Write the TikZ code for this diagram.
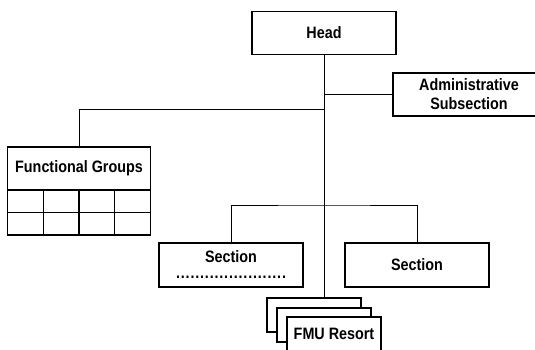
\documentclass[tikz,border=0pt]{standalone}
\usepackage{fontspec}
\setmainfont{Liberation Sans}[FakeStretch=0.87]
\begin{document}
\begin{tikzpicture}[x=1pt,y=-1pt,
  txt/.style={font=\fontsize{16.5}{19}\selectfont\bfseries},
  box/.style={draw,line width=1.4pt,fill=white,inner sep=0pt,txt,align=center},
  cell/.style={draw,line width=1.4pt,fill=white,inner sep=0pt,minimum width=35.75pt,minimum height=22.5pt},
  link/.style={line width=1pt}]
\useasboundingbox (0,0) rectangle (535,349);
% nodes
\node[box,minimum width=144pt,minimum height=43pt] (head) at (324,33) {Head};
\node[box,minimum width=152pt,minimum height=43pt] (admin) at (469,94.5) {Administrative\\Subsection};
\node[box,minimum width=143pt,minimum height=43pt] (fg) at (79,168.5) {Functional Groups};
\foreach \r in {0,1}{
  \foreach \c in {0,1,2,3}{
    \node[cell] (g\r\c) at ({7.5+35.75*\c+17.875},{190+22.5*\r+11.25}) {};
  }
}
\node[box,minimum width=144pt,minimum height=44pt] (s1) at (231,265)
  {Section\\[-3pt]{\addfontfeature{LetterSpace=5}.......................}};
\node[box,minimum width=144pt,minimum height=44pt] (s2) at (417,265) {Section};
% connectors
\coordinate (jf) at (324,109);
\coordinate (js) at (324,205);
\node[box,minimum width=94pt,minimum height=34pt] (c1) at (314,315) {};
\draw[link] (head.south) -- (head.south |- c1.north);
\draw[link] (head.south |- admin.west) -- (admin.west);
\draw[link] (jf) -| (fg.north);
\draw[link] (s1.north) |- (js) -| (s2.north);
\node[box,minimum width=94pt,minimum height=34pt] (c2) at (324,325) {};
\node[box,minimum width=94pt,minimum height=34pt] (c3) at (334,334) {FMU Resort};
\end{tikzpicture}
\end{document}
